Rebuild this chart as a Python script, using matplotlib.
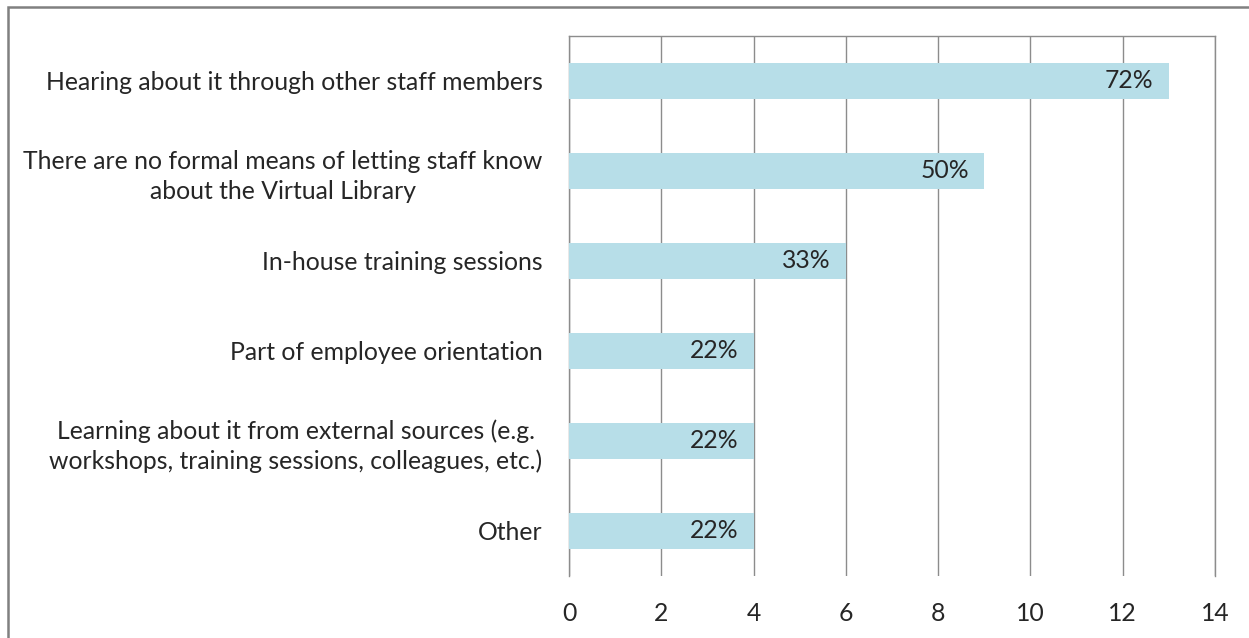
import matplotlib
matplotlib.use("Agg")
import matplotlib.pyplot as plt
from matplotlib.patches import Rectangle

categories = [
    "Hearing about it through other staff members",
    "There are no formal means of letting staff know\nabout the Virtual Library",
    "In-house training sessions",
    "Part of employee orientation",
    "Learning about it from external sources (e.g.\nworkshops, training sessions, colleagues, etc.)",
    "Other",
]
counts = [13, 9, 6, 4, 4, 4]
pct_labels = ["72%", "50%", "33%", "22%", "22%", "22%"]
x_ticks = [0, 2, 4, 6, 8, 10, 12, 14]

plt.rcParams['font.family'] = ['Lato', 'DejaVu Sans']
grid_col = '#8c8c8c'
txt_col = '#262626'
fs = 17.8

fig = plt.figure(figsize=(12.49, 6.38), dpi=100)
ax = fig.add_axes([569/1249, 1-576/638, (1215-569)/1249, 540/638])

ypos = list(range(len(categories)))[::-1]
ax.barh(ypos, counts, height=0.4, color='#b7dee8', zorder=3)

for y, v, lab in zip(ypos, counts, pct_labels):
    ax.annotate(lab, (v, y), xytext=(-11, 0), textcoords='offset points',
                ha='right', va='center', fontsize=fs, color=txt_col, zorder=4)

ax.set_xlim(0, 14)
ax.set_ylim(-0.5, 5.5)
ax.set_xticks(x_ticks)
ax.set_yticks(ypos)
ax.set_yticklabels(categories, multialignment='center', linespacing=1.35)
ax.tick_params(axis='both', length=0, labelsize=fs, colors=txt_col)
ax.tick_params(axis='y', pad=19)
ax.tick_params(axis='x', pad=19)
ax.xaxis.grid(True, color=grid_col, linewidth=1, zorder=0)

for side in ['top', 'right', 'left']:
    ax.spines[side].set_color(grid_col)
    ax.spines[side].set_linewidth(1)
ax.spines['bottom'].set_visible(False)

# outer chart frame
fig.patches.append(Rectangle((8/1249, -0.1), 1.2, 1 - 7/638 + 0.1,
                             transform=fig.transFigure, fill=False,
                             edgecolor='#808080', linewidth=1.8))

fig.savefig("out.png", dpi=100)
